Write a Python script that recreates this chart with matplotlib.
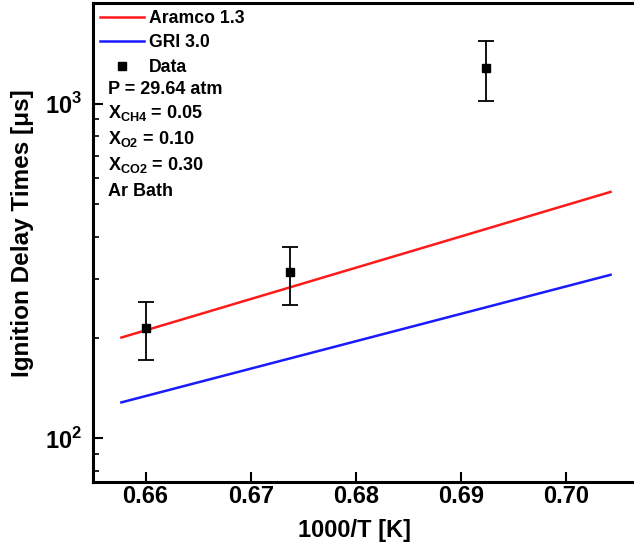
import matplotlib
matplotlib.use("Agg")
import matplotlib.pyplot as plt
from matplotlib.ticker import LogLocator, NullFormatter
from matplotlib.lines import Line2D

plt.rcParams['font.family'] = ['Liberation Sans', 'DejaVu Sans']
plt.rcParams['font.weight'] = 'bold'

# Model lines (endpoints of straight Arrhenius lines)
model_x = [0.6577, 0.7042]
aramco_y = [200, 545]
gri_y = [128, 308]

# Experimental data
data_x = [0.6600, 0.6737, 0.6924]
data_y = [213, 314, 1282]
data_lo = [171, 250, 1021]
data_hi = [255, 373, 1535]

fig = plt.figure(figsize=(6.34, 5.42), dpi=100)
ax = fig.add_axes([93/634, (542-482)/542, (640-93)/634, (482-3)/542])

l1, = ax.plot(model_x, aramco_y, color='#ff1a1a', lw=1.8, label='Aramco 1.3')
l2, = ax.plot(model_x, gri_y, color='#1a1aff', lw=1.8, label='GRI 3.0')
yerr = [[y - l for y, l in zip(data_y, data_lo)], [h - y for y, h in zip(data_y, data_hi)]]
ax.errorbar(data_x, data_y, yerr=yerr, fmt='s', color='black', ms=6,
            ecolor='black', elinewidth=1.3, capsize=6, capthick=1.3)
data_handle = Line2D([], [], ls='none', marker='s', color='black', ms=6)

ax.set_yscale('log')
ax.set_xlim(0.6550, 0.7070)
ax.set_ylim(74, 2000)
ax.set_xticks([0.66, 0.67, 0.68, 0.69, 0.70])
ax.set_xticklabels(['0.66', '0.67', '0.68', '0.69', '0.70'])
ax.set_yticks([100, 1000])
ax.set_yticklabels([r'10$^{\mathregular{2}}$', r'10$^{\mathregular{3}}$'])
ax.yaxis.set_minor_locator(LogLocator(base=10, subs=range(2, 10)))
ax.yaxis.set_minor_formatter(NullFormatter())
ax.tick_params(axis='both', which='major', direction='in', length=7, width=1.5,
               top=False, right=False)
ax.tick_params(axis='x', which='major', labelsize=17, pad=2)
ax.tick_params(axis='y', which='major', labelsize=17, pad=8)
ax.tick_params(axis='y', which='minor', direction='in', length=4, width=1.2)
ax.tick_params(axis='x', which='minor', bottom=False)
for s in ax.spines.values():
    s.set_linewidth(2.2)
ax.spines['right'].set_visible(False)

ax.set_xlabel('1000/T [K]', fontsize=17, fontweight='bold')
ax.xaxis.set_label_coords((355-93)/547, (482-519)/479)
ax.set_ylabel('Ignition Delay Times [μs]', fontsize=17.5, fontweight='bold')
ax.yaxis.set_label_coords((34-93)/547, (482-233)/479)

leg = ax.legend([l1, l2, data_handle], ['Aramco 1.3', 'GRI 3.0', 'Data'],
                loc='upper left', frameon=False, fontsize=12.7, handlelength=2.5,
                borderaxespad=0.2, borderpad=0.2, labelspacing=0.42, handletextpad=0.25)

info = ['P = 29.64 atm', r'X$_{\mathregular{CH4}}$ = 0.05',
        r'X$_{\mathregular{O2}}$ = 0.10', r'X$_{\mathregular{CO2}}$ = 0.30', 'Ar Bath']
ys = [89, 113, 139, 165, 192]
for t, yp in zip(info, ys):
    ax.text(108/634, 1 - yp/542, t, transform=fig.transFigure, fontsize=13,
            fontweight='bold', va='center', ha='left')

fig.savefig('out.png', dpi=100)
